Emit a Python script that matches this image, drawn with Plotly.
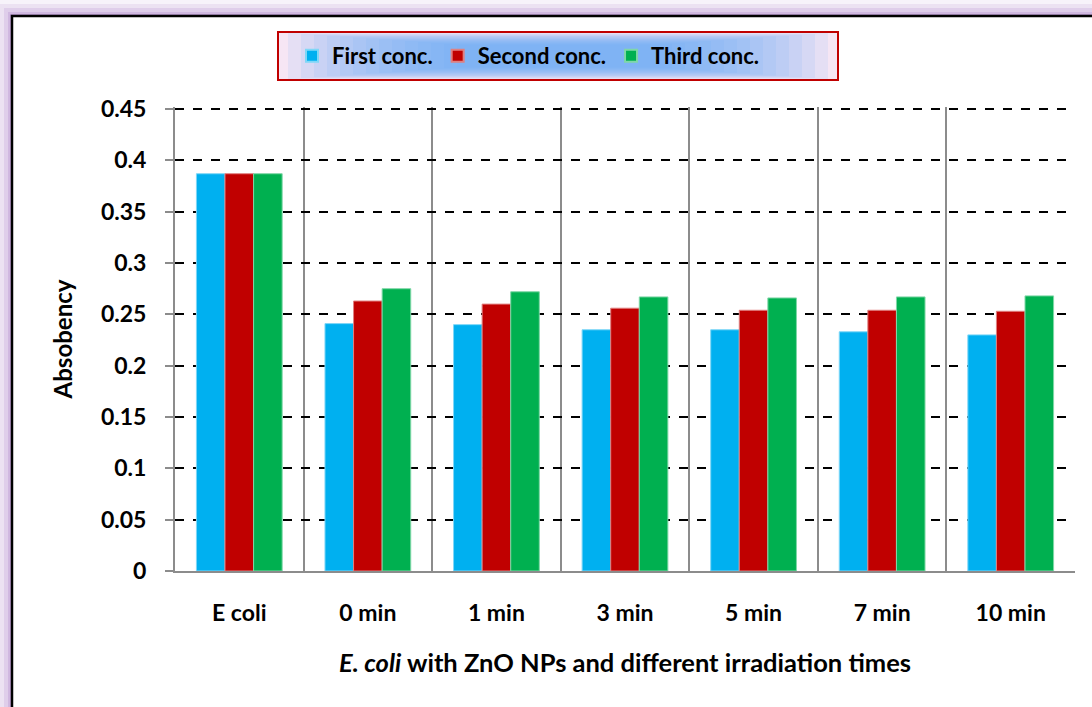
import plotly.graph_objects as go

categories = ["E coli", "0 min", "1 min", "3 min", "5 min", "7 min", "10 min"]
first_conc = [0.387, 0.241, 0.240, 0.235, 0.235, 0.233, 0.230]
second_conc = [0.387, 0.263, 0.260, 0.256, 0.254, 0.254, 0.253]
third_conc = [0.387, 0.275, 0.272, 0.267, 0.266, 0.267, 0.268]
series_names = ["First conc.", "Second conc.", "Third conc."]
colors = ["#00B0F0", "#C00000", "#00B050"]
edge_colors = ["#7FD7F7", "#E08080", "#7FD7A7"]
y_ticks = [0, 0.05, 0.1, 0.15, 0.2, 0.25, 0.3, 0.35, 0.4, 0.45]
y_tick_text = ["0", "0.05", "0.1", "0.15", "0.2", "0.25", "0.3", "0.35", "0.4", "0.45"]

FONT = "Lato"
Y_MAX = 0.452

fig = go.Figure()
for name, vals, c, ec in zip(series_names, [first_conc, second_conc, third_conc], colors, edge_colors):
    fig.add_trace(go.Bar(
        x=categories, y=vals, name=name,
        marker=dict(color=c, line=dict(color=ec, width=1)),
    ))

# plot area: x 175..1075, y 107..571 (0.45 line at y=109)
TOP = 107
H = 571 - TOP

def px(x):
    return (x - 175) / 900.0

def py(y):
    return (571 - y) / H

shapes = []
# purple glow around frame
for d, op in [(16, 0.08), (12, 0.12), (8, 0.16), (4, 0.22), (2, 0.3)]:
    shapes.append(dict(type="rect", xref="paper", yref="paper", layer="below",
                       x0=px(12 - d), x1=px(1110 + d), y0=py(730 + d), y1=py(16 - d),
                       fillcolor="#9A6CC0", opacity=op, line=dict(width=0)))
# frame
shapes.append(dict(type="rect", xref="paper", yref="paper", layer="below",
                   x0=px(12), x1=px(1110), y0=py(730), y1=py(16),
                   fillcolor="white", line=dict(color="black", width=2.5)))
# legend box gradient
lx0, lx1, ly0, ly1 = 278, 838, 32, 80
shapes.append(dict(type="rect", xref="paper", yref="paper", layer="below",
                   x0=px(lx0), x1=px(lx1), y0=py(ly1), y1=py(ly0),
                   fillcolor="#F6E6F4", line=dict(width=0)))
n = 14
for k in range(n):
    dx = 10 + k * 13
    dy = 1 + k * 0.9
    shapes.append(dict(type="rect", xref="paper", yref="paper", layer="below",
                       x0=px(lx0 + dx), x1=px(lx1 - dx), y0=py(ly1 - dy), y1=py(ly0 + dy),
                       fillcolor="#6AAEF6", opacity=0.12, line=dict(width=0)))
shapes.append(dict(type="rect", xref="paper", yref="paper", layer="below",
                   x0=px(lx0), x1=px(lx1), y0=py(ly1), y1=py(ly0),
                   fillcolor="rgba(0,0,0,0)", line=dict(color="#C00000", width=2)))

fig.update_layout(
    width=1092, height=707,
    margin=dict(l=175, r=17, t=TOP, b=136),
    paper_bgcolor="white", plot_bgcolor="rgba(0,0,0,0)",
    barmode="group", bargap=0.333, bargroupgap=0,
    font=dict(family=FONT, color="black"),
    showlegend=True,
    legend=dict(orientation="h", x=px(292), xanchor="left", y=py(56), yanchor="middle",
                bgcolor="rgba(0,0,0,0)", borderwidth=0,
                font=dict(family=FONT, size=22, color="black", weight="bold"),
                itemsizing="constant", traceorder="normal", itemwidth=30),
    shapes=shapes,
    xaxis=dict(
        type="category", tickson="boundaries", showgrid=True, gridcolor="#8C8C8C", gridwidth=2,
        showline=True, linecolor="#8C8C8C", linewidth=2, ticks="", mirror=False,
        tickfont=dict(family=FONT, size=23, color="black", weight="bold"),
        title=dict(text="<i>E. coli</i> with ZnO NPs and different irradiation times",
                   font=dict(family=FONT, size=25.5, color="black", weight="bold"), standoff=30),
        ticklabelstandoff=20,
    ),
    yaxis=dict(
        range=[0, Y_MAX], tickvals=y_ticks, ticktext=y_tick_text,
        showgrid=True, gridcolor="black", gridwidth=2, griddash="dash",
        showline=True, linecolor="#8C8C8C", linewidth=2,
        ticks="outside", ticklen=8, tickcolor="#8C8C8C", tickwidth=2,
        tickfont=dict(family=FONT, size=23, color="black", weight="bold"),
        ticklabelstandoff=14,
        title=dict(text="Absobency", font=dict(family=FONT, size=24, color="black", weight="bold"), standoff=22),
        zeroline=False,
    ),
)

fig.write_html("out.html")
